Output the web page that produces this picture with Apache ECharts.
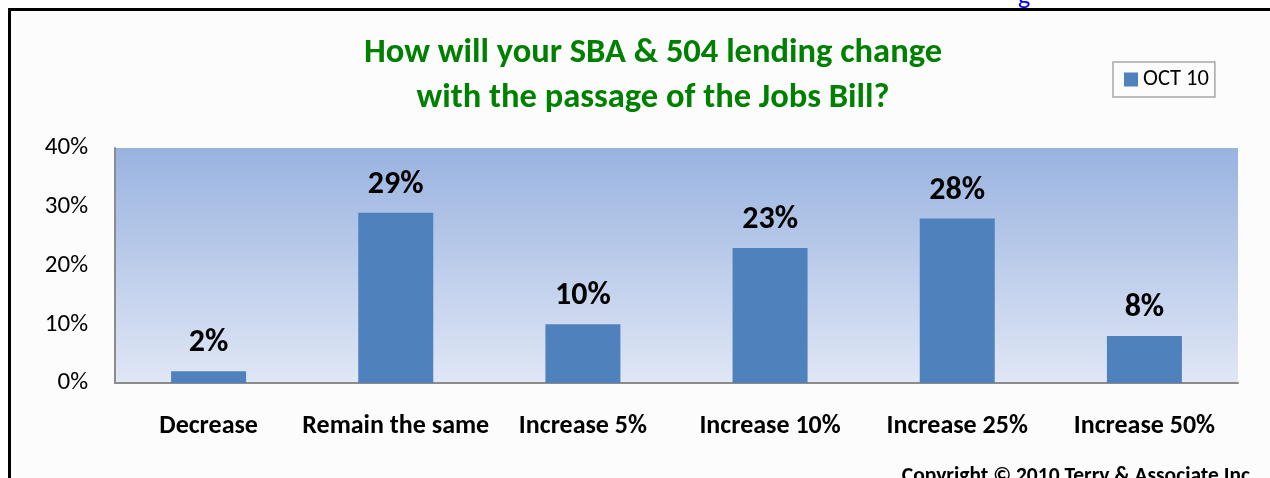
<!DOCTYPE html>
<html>
<head>
<meta charset="utf-8">
<title>SBA & 504 lending</title>
<script src="https://cdn.jsdelivr.net/npm/echarts@6/dist/echarts.min.js"></script>
<style>
    body { margin: 0; background: #ffffff; }
    #frame { position: absolute; left: 8px; top: 8px; width: 1300px; height: 520px;
             border: 3px solid #000; background: #fcfcfc; }
    #main { position: absolute; left: 0; top: 0; width: 1270px; height: 478px; }
</style>
</head>
<body>
<div id="frame"></div>
<div id="main"></div>
<script>
// categories and values (percent)
var categories = ['Decrease', 'Remain the same', 'Increase 5%', 'Increase 10%', 'Increase 25%', 'Increase 50%'];
var oct10 = [2, 29, 10, 23, 28, 8];
var seriesName = 'OCT 10';
var titleText = 'How will your SBA & 504 lending change\nwith the passage of the Jobs Bill?';
var copyrightText = 'Copyright \u00a9 2010 Terry & Associate Inc';

var font = 'Carlito, Lato, sans-serif';

window.onload = function () {
    var myChart = echarts.init(document.getElementById('main'));
    var option = {
        backgroundColor: 'transparent',
        title: [{
            text: titleText,
            left: 648,
            top: 26,
            textAlign: 'center',
            textStyle: {
                fontFamily: font,
                fontSize: 34.5,
                fontWeight: 'bold',
                color: '#008000',
                lineHeight: 45
            }
        }, {
            text: copyrightText,
            right: 15,
            top: 461,
            textStyle: { fontFamily: font, fontSize: 21.5, fontWeight: 'bold', color: '#000' }
        }, {
            text: 'g',
            left: 1013,
            top: -21,
            textStyle: { fontFamily: font, fontSize: 26, fontWeight: 'normal', color: '#0000ff' }
        }],
        legend: {
            data: [seriesName],
            left: 1113,
            top: 62,
            padding: [6, 6, 6, 11],
            itemWidth: 14,
            itemHeight: 14,
            itemGap: 5,
            borderColor: '#a6a6a6',
            borderWidth: 1.5,
            icon: 'rect',
            textStyle: { fontFamily: font, fontSize: 22.5, color: '#000' }
        },
        grid: {
            left: 115,
            right: 32,
            top: 148,
            bottom: 95,
            show: true,
            borderWidth: 0,
            backgroundColor: new echarts.graphic.LinearGradient(0, 0, 0, 1, [
                { offset: 0, color: '#99b3e0' },
                { offset: 1, color: '#e0e7f5' }
            ])
        },
        xAxis: {
            type: 'category',
            data: categories,
            axisLine: { show: true, lineStyle: { color: '#8c8c8c', width: 2 } },
            axisTick: { show: false },
            axisLabel: {
                margin: 30,
                interval: 0,
                fontFamily: font,
                fontSize: 26,
                fontWeight: 'bold',
                color: '#000'
            }
        },
        yAxis: {
            type: 'value',
            min: 0,
            max: 40,
            interval: 10,
            axisLine: { show: true, lineStyle: { color: '#8c8c8c', width: 2 } },
            axisTick: { show: false },
            splitLine: { show: false },
            axisLabel: {
                margin: 27,
                formatter: '{value}%',
                fontFamily: font,
                fontSize: 25,
                color: '#000'
            }
        },
        series: [{
            name: seriesName,
            type: 'bar',
            data: oct10,
            barWidth: 75,
            itemStyle: { color: '#4f81bd' },
            label: {
                show: true,
                position: 'top',
                distance: 12,
                formatter: '{c}%',
                fontFamily: font,
                fontSize: 32,
                fontWeight: 'bold',
                color: '#000'
            }
        }]
    };
    myChart.setOption(option);
};
</script>
</body>
</html>
